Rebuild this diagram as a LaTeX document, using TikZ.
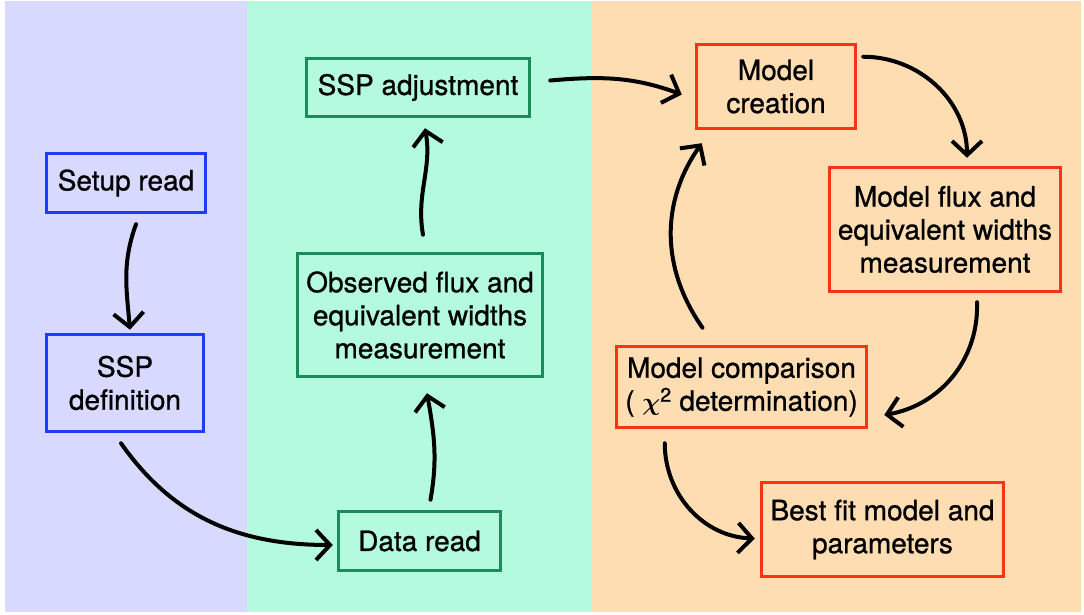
\documentclass[tikz,border=0pt]{standalone}
\usepackage{amsmath}
\usepackage{fontspec}
\setmainfont{TeX Gyre Heros}
\newfontfamily\stagefont{TeX Gyre Heros}[FakeBold=0.9]
\usetikzlibrary{arrows.meta}
\definecolor{panelBlue}{RGB}{216,217,254}
\definecolor{panelGreen}{RGB}{179,250,222}
\definecolor{panelOrange}{RGB}{254,221,179}
\definecolor{setupBlue}{RGB}{30,60,250}
\definecolor{dataGreen}{RGB}{25,140,90}
\definecolor{modelRed}{RGB}{252,50,20}

\begin{document}
\begin{tikzpicture}[
  x=1pt, y=1pt,
  stage/.style={
    rectangle, draw=#1, line width=3.5pt,
    align=center, inner sep=0pt,
    font=\stagefont\fontsize{28}{33}\selectfont
  },
  arr/.style={-{Straight Barb[length=14pt,width=30pt]},
    line width=4pt, black, line cap=round}
]
  % Panels
  \fill[white] (0,0) rectangle (1084,615);
  \fill[panelBlue] (5,3) rectangle (247,614);
  \fill[panelGreen] (247,3) rectangle (592,614);
  \fill[panelOrange] (592,3) rectangle (1081,614);

  % Setup stage
  \node[stage=setupBlue, minimum width=159pt, minimum height=59pt]
    (setup) at (126,432) {Setup read};
  \node[stage=setupBlue, minimum width=157pt, minimum height=97pt]
    (sspdef) at (125,232) {SSP\\definition};

  % Data stage
  \node[stage=dataGreen, minimum width=162pt, minimum height=59pt]
    (dataread) at (419.5,74) {Data read};
  \node[stage=dataGreen, minimum width=245pt, minimum height=123pt]
    (observed) at (420,300) {Observed flux and\\equivalent widths\\measurement};
  \node[stage=dataGreen, minimum width=223pt, minimum height=58pt]
    (sspadj) at (418,527.5) {SSP adjustment};

  % Model stage
  \node[stage=modelRed, minimum width=159pt, minimum height=84pt]
    (creation) at (776,528.5) {Model\\creation};
  \node[stage=modelRed, minimum width=231pt, minimum height=124pt]
    (modelflux) at (945,385.5) {Model flux and\\equivalent widths\\measurement};
  \node[stage=modelRed, minimum width=250pt, minimum height=81pt]
    (comparison) at (741.5,228)
    {Model comparison\\( $\boldsymbol{\chi}$\textsuperscript{2} determination)};
  \node[stage=modelRed, minimum width=242pt, minimum height=94pt]
    (bestfit) at (882.5,85.5) {Best fit model and\\parameters};

  % Connectors
  \draw[arr] ([xshift=10pt,yshift=-10pt]setup.south)
    to[out=-110,in=95] ([xshift=5pt,yshift=3pt]sspdef.north);
  \draw[arr] ([xshift=-4pt,yshift=-10pt]sspdef.south)
    to[out=-55,in=180] ([xshift=-4pt,yshift=-4pt]dataread.west);
  \draw[arr] ([xshift=11pt,yshift=10pt]dataread.north)
    to[out=80,in=-80] ([xshift=7pt,yshift=-15pt]observed.south);
  \draw[arr] ([xshift=3pt,yshift=17pt]observed.north)
    to[out=100,in=-80] ([xshift=7pt,yshift=-10pt]sspadj.south);
  \draw[arr] ([xshift=19pt,yshift=7pt]sspadj.east)
    to[out=5,in=160] ([xshift=-13pt,yshift=-8pt]creation.west);
  \draw[arr] ([xshift=6pt,yshift=-14pt]creation.north east)
    to[out=0,in=90] ([xshift=22pt,yshift=8pt]modelflux.north);
  \draw[arr] ([xshift=32pt,yshift=-9pt]modelflux.south)
    to[out=-88,in=10] ([xshift=16pt,yshift=-28pt]comparison.east);
  \draw[arr] ([xshift=-39pt,yshift=17pt]comparison.north)
    to[out=125,in=-125] ([xshift=7pt,yshift=-13pt]creation.south west);
  \draw[arr] ([xshift=50pt,yshift=-14pt]comparison.south west)
    to[out=-90,in=178] ([xshift=-5pt,yshift=-9pt]bestfit.west);
\end{tikzpicture}
\end{document}
